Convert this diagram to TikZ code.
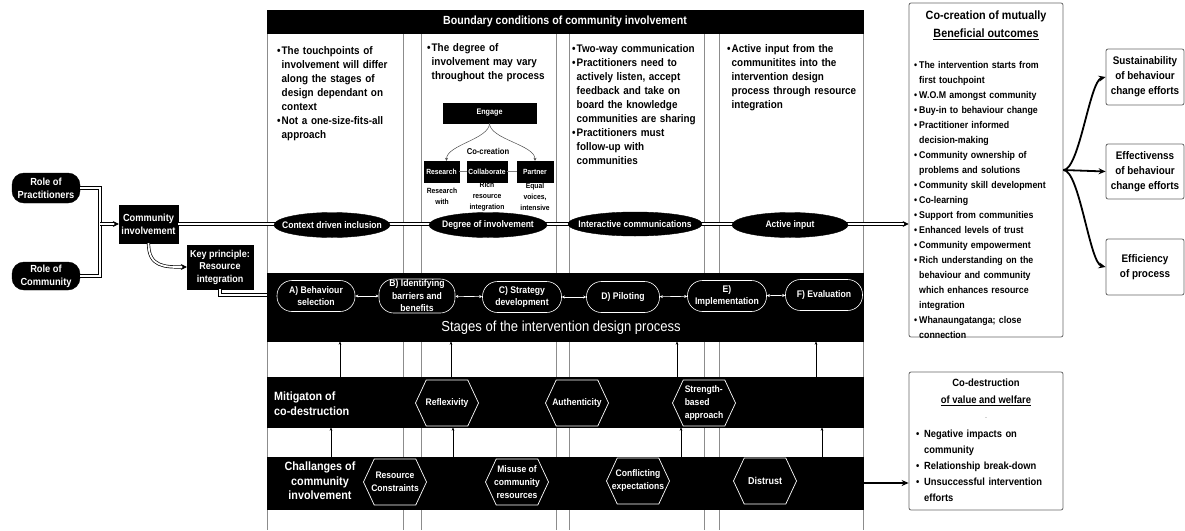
\documentclass[tikz,border=0pt]{standalone}
\usepackage{fontspec}
\setmainfont{Liberation Sans}[FakeStretch=0.9]
\usetikzlibrary{calc, positioning}
\usetikzlibrary{arrows.meta}
\usetikzlibrary{shapes.geometric, shapes.misc, shapes.symbols}

\newcommand{\fsz}[2]{\fontsize{#1}{#2}\selectfont}
\newlength{\bulw}
\setlength{\bulw}{4.5pt}
\newcommand{\bul}[1]{\par\hangindent=\bulw\hangafter=1\noindent\makebox[\bulw][l]{\textbullet}{\let\\\newline#1}\par}

\tikzset{
  every node/.style={font=\bfseries},
  darkbox/.style={draw=black, fill=black, text=white, align=center, inner sep=1pt},
  bar/.style={draw=black, fill=black, inner sep=0pt},
  colline/.style={draw=black!45, line width=0.7pt},
  coltext/.style={anchor=north west, align=left, inner sep=0pt, text width=#1},
  dbl/.style={draw=black, line width=0.7pt, double=white, double distance=1.8pt},
  oval/.style={ellipse, draw=black, fill=black, text=white, inner xsep=-20pt, inner ysep=0pt, font=\bfseries\fsz{9.5}{11}},
  stage/.style={rectangle, rounded corners=15pt, draw=white, fill=black, text=white, align=center, inner sep=1pt, minimum height=31pt, line width=0.6pt, font=\bfseries\fsz{9.6}{12.5}},
  stagearr/.style={draw=white, line width=0.6pt, {Stealth[length=3pt,width=3pt]}-{Stealth[length=3pt,width=3pt]}},
  hexa/.style={signal, signal to=west and east, signal pointer angle=130, draw=white, fill=black, text=white, align=center, minimum width=63pt, minimum height=46pt, inner xsep=-12pt, inner ysep=0pt, line width=0.7pt, font=\bfseries\fsz{9.5}{13}},
  uparr/.style={draw=black, line width=0.5pt, -{Stealth[length=3.5pt,width=2.5pt]}},
  outbox/.style={draw=black!60, rounded corners=2pt, line width=0.8pt},
  fork/.style={draw=black, line width=1.8pt, -{Stealth[length=7pt,width=6pt]}},
}

\begin{document}
\begin{tikzpicture}[x=1pt, y=-1pt]
\useasboundingbox (0,0) rectangle (1185,530);

% columns of the boundary conditions
\foreach \x in {267,403,421,556,569,704,719,863}
  \draw[colline] (\x,33) -- (\x,530);

\node[bar, minimum width=596pt, minimum height=23pt, text=white, font=\bfseries\fsz{11.8}{14}] (bound) at (565,21.5) {Boundary conditions of community involvement};

\node[coltext=160pt, font=\bfseries\fsz{11}{14}] (col1) at (277,40) {\bul{The touchpoints of\\involvement will differ\\along the stages of\\design dependant on\\context}\bul{Not a one-size-fits-all\\approach}};
\node[coltext=160pt, font=\bfseries\fsz{11}{14}] (col2) at (427,37) {\bul{The degree of\\involvement may vary\\throughout the process}};
\node[coltext=160pt, font=\bfseries\fsz{11}{14}] (col3) at (572,38) {\bul{Two-way communication}\bul{Practitioners need to\\actively listen, accept\\feedback and take on\\board the knowledge\\communities are sharing}\bul{Practitioners must\\follow-up with\\communities}};
\node[coltext=160pt, font=\bfseries\fsz{11}{14}] (col4) at (727,38) {\bul{Active input from the\\communitites into the\\intervention design\\process through resource\\integration}};

% degree of involvement
\node[darkbox, minimum width=93pt, minimum height=20pt, font=\bfseries\fsz{8}{9}] (engage) at (489.5,113) {Engage};
\node[font=\bfseries\fsz{8.5}{10}] (cocre) at (488,151) {Co-creation};
\node[darkbox, minimum width=35pt, minimum height=21pt, font=\bfseries\fsz{7.5}{9}] (research) at (441.5,171.5) {Research};
\node[darkbox, minimum width=40pt, minimum height=21pt, font=\bfseries\fsz{7.5}{9}] (collab) at (487,171.5) {Collaborate};
\node[darkbox, minimum width=36pt, minimum height=21pt, font=\bfseries\fsz{7.5}{9}] (partner) at (535,171.5) {Partner};
\draw[black!50, line width=0.8pt] (research) -- (collab) -- (partner);
\draw[black!70, line width=0.5pt, -{Stealth[length=3pt,width=3pt]}] (engage.south) .. controls +(0,16) and +(0,-16) .. ([xshift=5pt]research.north);
\draw[black!70, line width=0.5pt, -{Stealth[length=3pt,width=3pt]}] (engage.south) .. controls +(0,16) and +(0,-16) .. (partner.north);
\node[align=center, font=\bfseries\fsz{7.5}{11}] (reswith) at (442,196) {Research\\with};
\node[align=center, font=\bfseries\fsz{7.5}{11}] (richres) at (487,197) {Rich\\resource\\integration};
\node[align=center, font=\bfseries\fsz{7.5}{11}] (equal) at (535,197) {Equal\\voices,\\intensive};

% outcomes on the right
\node[outbox, minimum width=154pt, minimum height=334pt] (cocr) at (986,170) {};
\node[align=center, font=\bfseries\fsz{12}{18}] (cocrtitle) at (986,25) {Co-creation of mutually\\\underline{Beneficial outcomes}};
\node[coltext=160pt, font=\bfseries\fsz{9.8}{15}] (cocrlist) at (914,53.5) {\setlength{\bulw}{5pt}%
\bul{The intervention starts from\\first touchpoint}\bul{W.O.M amongst community}\bul{Buy-in to behaviour change}%
\bul{Practitioner informed\\decision-making}\bul{Community ownership of\\problems and solutions}%
\bul{Community skill development}\bul{Co-learning}\bul{Support from communities}%
\bul{Enhanced levels of trust}\bul{Community empowerment}%
\bul{Rich understanding on the\\behaviour and community\\which enhances resource\\integration}%
\bul{Whanaungatanga; close\\connection}};

\node[outbox, minimum width=154pt, minimum height=138pt] (codes) at (986,441) {};
\node[align=center, font=\bfseries\fsz{10.5}{17}] (codestitle) at (986,392) {Co-destruction\\\underline{of value and welfare}};
\node[font=\fsz{6}{6}, inner sep=0pt] (dot) at (986,418) {.};
\node[coltext=160pt, font=\bfseries\fsz{10.4}{16}] (codeslist) at (916,421) {\setlength{\bulw}{8pt}%
\bul{Negative impacts on\\community}\bul{Relationship break-down}\bul{Unsuccessful intervention\\efforts}};

\node[outbox, minimum width=78pt, minimum height=56pt, align=center, font=\bfseries\fsz{11}{15}] (sustain) at (1145,77) {Sustainability\\of behaviour\\change efforts};
\node[outbox, minimum width=78pt, minimum height=55pt, align=center, font=\bfseries\fsz{11}{15}] (effect) at (1145,171.5) {Effectivenss\\of behaviour\\change efforts};
\node[outbox, minimum width=78pt, minimum height=56pt, align=center, font=\bfseries\fsz{11}{15}] (effic) at (1145,267) {Efficiency\\of process};

\draw[fork] (cocr.east) .. controls +(16,0) and +(-16,4) .. (sustain.west);
\draw[fork] (cocr.east) -- (effect.west);
\draw[fork] (cocr.east) .. controls +(16,0) and +(-16,-4) .. (effic.west);

% roles and community involvement
\node[darkbox, rounded corners=12pt, minimum width=68pt, minimum height=30pt, font=\bfseries\fsz{10.3}{13}] (prac) at (46,188) {Role of\\Practitioners};
\node[darkbox, rounded corners=12pt, minimum width=68pt, minimum height=28pt, font=\bfseries\fsz{10.3}{13}] (comm) at (46,276) {Role of\\Community};
\node[darkbox, minimum width=59pt, minimum height=38pt, font=\bfseries\fsz{10.3}{13}] (ci) at (148.5,224) {Community\\involvement};
\node[darkbox, minimum width=66pt, minimum height=44pt, font=\bfseries\fsz{10}{12.5}] (kp) at (220,267) {Key principle:\\Resource\\integration};

\coordinate (join) at (100,224);
\coordinate (kpin) at (267,295);
\draw[dbl] (prac.east) -| (join) |- (comm.east);
\draw[dbl, -{Stealth[length=6pt,width=6pt]}] (join) -- (ci.west);
\draw[dbl, -{Stealth[length=6pt,width=6pt]}] (ci.south) .. controls +(0,24) and +(-22,0) .. (kp.west);
\draw[dbl] (kp.south) |- (kpin);
\draw[dbl, -{Stealth[length=6pt,width=6pt]}] (ci.east) -- (ci.east -| cocr.west);

\node[oval, minimum width=116pt, minimum height=25pt] (ctx) at (332,225) {Context driven inclusion};
\node[oval, minimum width=118pt, minimum height=25pt] (deg) at (488,225) {Degree of involvement};
\node[oval, minimum width=134pt, minimum height=24pt] (inter) at (635,224) {Interactive communications};
\node[oval, minimum width=116pt, minimum height=25pt] (act) at (790,225) {Active input};

% stages of the intervention design process
\node[bar, minimum width=596pt, minimum height=68pt] (stages) at (565,307) {};
\node[stage, minimum width=78pt] (sA) at (316,296) {A) Behaviour\\selection};
\node[stage, minimum width=76pt] (sB) at (417,296) {B) Identifying\\barriers and\\benefits};
\node[stage, minimum width=79pt] (sC) at (522,297) {C) Strategy\\development};
\node[stage, minimum width=73pt] (sD) at (623,297) {D) Piloting};
\node[stage, minimum width=79pt] (sE) at (727,296) {E)\\Implementation};
\node[stage, minimum width=77pt] (sF) at (824,295) {F) Evaluation};
\foreach \a/\b in {sA/sB, sB/sC, sC/sD, sD/sE, sE/sF}
  \draw[stagearr] (\a) -- (\b);
\node[text=white, font=\mdseries\fsz{14.5}{16}] (stlabel) at (561,328) {Stages of the intervention design process};

% mitigation
\node[bar, minimum width=596pt, minimum height=50pt] (mit) at (565,402) {};
\node[text=white, align=left, anchor=west, inner sep=0pt, font=\bfseries\fsz{12}{15}] (mitlabel) at (274,404) {Mitigaton of\\co-destruction};
\node[hexa] (reflex) at (447,403) {Reflexivity};
\node[hexa] (authen) at (577,403) {Authenticity};
\node[hexa, align=left] (strength) at (704,403) {Strength-\\based\\approach};

% challenges
\node[bar, minimum width=596pt, minimum height=52pt] (chal) at (565,483) {};
\node[text=white, align=center, font=\bfseries\fsz{12}{14.5}] (challabel) at (320,481) {Challanges of\\community\\involvement};
\node[hexa] (resc) at (395,482) {Resource\\Constraints};
\node[hexa] (misuse) at (517,482) {Misuse of\\community\\resources};
\node[hexa] (conflict) at (638,481) {Conflicting\\expectations};
\node[hexa, font=\bfseries\fsz{10}{12}] (distrust) at (765,481) {Distrust};

\foreach \x in {340,451,677,816}{
  \coordinate (up) at (\x,0);
  \draw[uparr] (mit.north -| up) -- (stages.south -| up);
}
\foreach \x in {331,453,681,822}{
  \coordinate (up) at (\x,0);
  \draw[uparr] (chal.north -| up) -- (mit.south -| up);
}

\draw[fork, line width=1.6pt] (chal.east) -- (chal.east -| codes.west);
\end{tikzpicture}
\end{document}
